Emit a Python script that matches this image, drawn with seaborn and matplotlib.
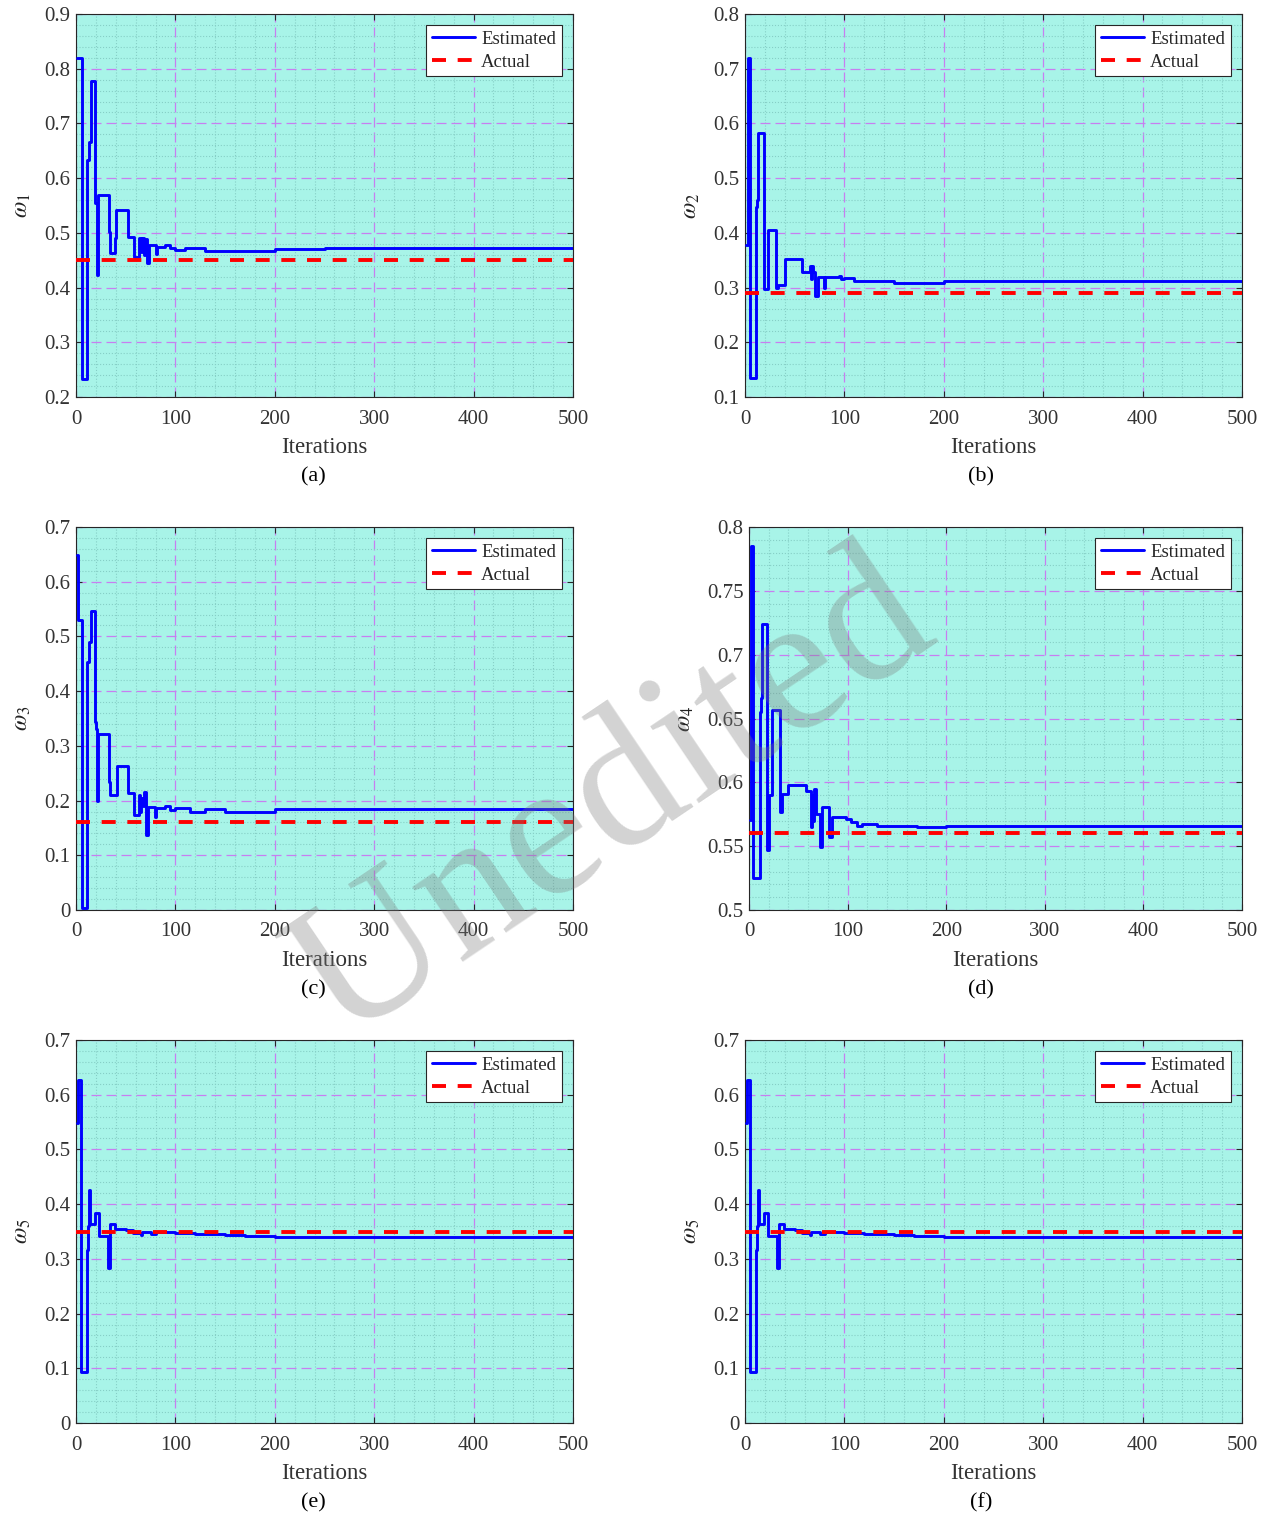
import numpy as np
import seaborn as sns
import matplotlib.pyplot as plt
from matplotlib.ticker import MultipleLocator, FuncFormatter

# step curves: iteration where the estimate changes, and the new value
a_it = [1, 6, 11, 13, 15, 19, 21, 22, 33, 34, 39, 40, 52, 58, 63, 65, 66, 68, 69, 71, 73, 80, 81, 90, 95, 100, 110, 130, 160, 200, 250, 500]
a_val = [0.82, 0.232, 0.633, 0.666, 0.778, 0.555, 0.423, 0.569, 0.502, 0.463, 0.49, 0.542, 0.493, 0.456, 0.49, 0.465, 0.49, 0.46, 0.488, 0.445, 0.478, 0.462, 0.474, 0.478, 0.472, 0.468, 0.472, 0.467, 0.466, 0.47, 0.472, 0.472]

b_it = [1, 3, 5, 11, 12, 13, 19, 23, 31, 33, 40, 57, 65, 66, 67, 68, 70, 73, 79, 80, 95, 97, 100, 110, 150, 200, 500]
b_val = [0.378, 0.719, 0.134, 0.448, 0.46, 0.582, 0.297, 0.405, 0.30, 0.305, 0.353, 0.329, 0.34, 0.315, 0.34, 0.329, 0.284, 0.32, 0.30, 0.319, 0.322, 0.316, 0.318, 0.312, 0.309, 0.312, 0.312]

c_it = [1, 2, 6, 11, 13, 15, 19, 20, 21, 22, 33, 34, 41, 52, 58, 63, 64, 65, 67, 68, 70, 72, 79, 80, 90, 95, 100, 115, 130, 150, 200, 500]
c_val = [0.649, 0.53, 0.004, 0.454, 0.49, 0.546, 0.344, 0.33, 0.2, 0.321, 0.234, 0.21, 0.264, 0.213, 0.174, 0.21, 0.18, 0.205, 0.19, 0.215, 0.137, 0.189, 0.17, 0.186, 0.19, 0.183, 0.187, 0.18, 0.185, 0.18, 0.185, 0.185]

d_it = [1, 2, 4, 11, 12, 13, 18, 20, 23, 31, 33, 40, 58, 63, 64, 65, 66, 68, 72, 74, 81, 84, 98, 103, 110, 115, 130, 170, 200, 500]
d_val = [0.5705, 0.7854, 0.5253, 0.655, 0.666, 0.724, 0.547, 0.59, 0.657, 0.577, 0.591, 0.598, 0.593, 0.565, 0.59, 0.57, 0.595, 0.575, 0.5496, 0.581, 0.557, 0.573, 0.571, 0.569, 0.566, 0.567, 0.566, 0.565, 0.566, 0.566]

e_it = [1, 2, 5, 11, 12, 13, 14, 19, 23, 32, 34, 39, 50, 57, 65, 66, 75, 80, 100, 120, 150, 170, 200, 500]
e_val = [0.548, 0.627, 0.094, 0.316, 0.36, 0.425, 0.364, 0.384, 0.342, 0.283, 0.364, 0.355, 0.352, 0.348, 0.343, 0.349, 0.345, 0.349, 0.347, 0.346, 0.344, 0.341, 0.34, 0.34]

actual = [0.45, 0.29, 0.16, 0.56, 0.35, 0.35]
ylabels = [r'$\omega_1$', r'$\omega_2$', r'$\omega_3$', r'$\omega_4$', r'$\omega_5$', r'$\omega_5$']
ylims = [(0.2, 0.9), (0.1, 0.8), (0, 0.7), (0.5, 0.8), (0, 0.7), (0, 0.7)]
ysteps = [0.1, 0.1, 0.1, 0.05, 0.1, 0.1]
panel_tags = ['(a)', '(b)', '(c)', '(d)', '(e)', '(f)']

series = [(a_it, a_val), (b_it, b_val), (c_it, c_val), (d_it, d_val), (e_it, e_val), (e_it, e_val)]

sns.set_theme(style='ticks')
plt.rcParams['font.family'] = ['Liberation Serif', 'DejaVu Serif']
plt.rcParams['mathtext.fontset'] = 'stix'

W, H = 1273, 1517
fig = plt.figure(figsize=(W / 100, H / 100), dpi=100)

# pixel boxes of the axes: left, top, right, bottom
boxes = [(76, 14, 573, 397), (745, 14, 1242, 397),
         (76, 527, 573, 910), (749, 527, 1242, 910),
         (76, 1040, 573, 1423), (745, 1040, 1242, 1423)]
tag_pos = [(313, 477), (981, 477), (313, 990), (981, 990), (313, 1503), (981, 1503)]

bg = '#a8f4e8'
for i in range(6):
    l, t, r, b = boxes[i]
    ax = fig.add_axes([l / W, 1 - b / H, (r - l) / W, (b - t) / H])
    ax.set_facecolor(bg)
    it, val = series[i]
    sns.lineplot(x=it, y=val, ax=ax, drawstyle='steps-post', estimator=None, sort=False,
                 color='#0000ff', lw=2.1, label='Estimated', zorder=3)
    ax.axhline(actual[i], color='#ff0000', lw=2.8, dashes=(3.6, 3.0), label='Actual', zorder=4)

    ax.set_xlim(0, 500)
    ax.set_ylim(*ylims[i])
    ax.xaxis.set_major_locator(MultipleLocator(100))
    ax.xaxis.set_minor_locator(MultipleLocator(20))
    ax.yaxis.set_major_locator(MultipleLocator(ysteps[i]))
    ax.yaxis.set_minor_locator(MultipleLocator(ysteps[i] / 5))
    ax.yaxis.set_major_formatter(FuncFormatter(lambda v, p: ('%.2f' % v).rstrip('0').rstrip('.') if abs(v) > 1e-9 else '0'))

    ax.grid(which='major', color='#c77ff0', lw=0.9, dashes=(8, 4))
    ax.grid(which='minor', color='#86cfc6', lw=0.8, linestyle=':')
    ax.set_axisbelow(True)

    ax.tick_params(which='both', direction='in', top=True, right=True, colors='#262626',
                   labelcolor='#333333', labelsize=15)
    ax.tick_params(which='major', length=4, width=0.8)
    ax.tick_params(which='minor', length=0)
    ax.tick_params(axis='x', pad=9)
    ax.tick_params(axis='y', pad=4)
    for s in ax.spines.values():
        s.set_color('#262626')
        s.set_linewidth(0.8)

    ax.set_xlabel('Iterations', fontsize=16.5, color='#333333', labelpad=6)
    ax.set_ylabel(ylabels[i], fontsize=17, color='#222222', labelpad=8)

    leg = ax.legend(loc='upper right', fontsize=13.5, frameon=True, fancybox=False,
                    handlelength=2.3, handletextpad=0.35, labelspacing=0.3,
                    borderpad=0.3, borderaxespad=0.6)
    leg.get_frame().set_edgecolor('#262626')
    leg.get_frame().set_linewidth(0.8)
    leg.get_frame().set_facecolor('white')
    leg.get_frame().set_alpha(1)

    tx, ty = tag_pos[i]
    fig.text(tx / W, 1 - ty / H, panel_tags[i], ha='center', va='center', fontsize=16, color='black')

# watermark
fig.text(615 / W, 1 - 800 / H, 'Unedited', rotation=34, fontsize=142, color='#7a7a7a',
         alpha=0.33, ha='center', va='center', zorder=10)

fig.savefig('out.png', dpi=100)
